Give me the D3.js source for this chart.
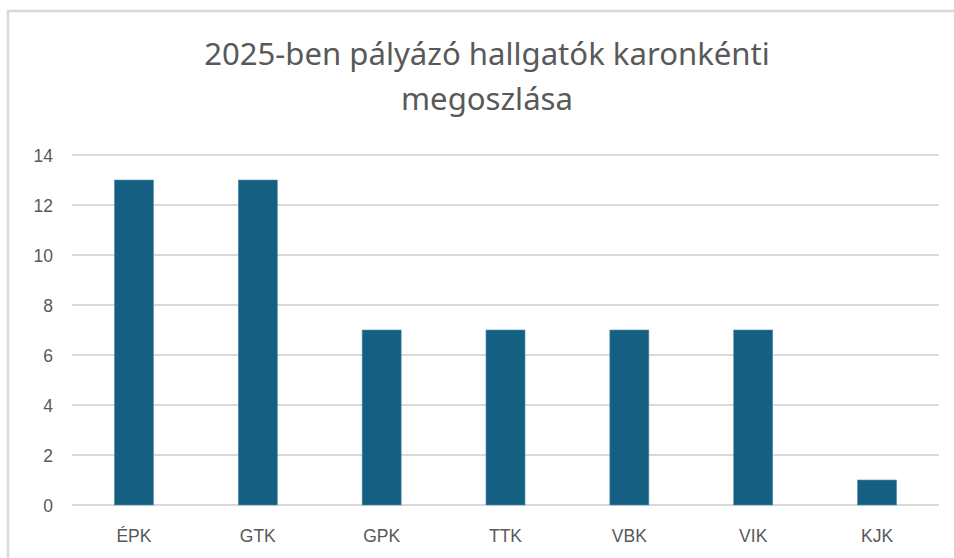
<!DOCTYPE html>
<html><head><meta charset="utf-8">
<script src="https://cdn.jsdelivr.net/npm/d3@7"></script>
<style>html,body{margin:0;padding:0;background:#fff;}</style>
</head><body>
<svg id="chart" width="954" height="558"></svg>
<script>
const categories = ["ÉPK", "GTK", "GPK", "TTK", "VBK", "VIK", "KJK"];
const values = [13, 13, 7, 7, 7, 7, 1];
const yTicks = [0, 2, 4, 6, 8, 10, 12, 14];
const titleLines = ["2025-ben pályázó hallgatók karonkénti", "megoszlása"];

(function () {
const svg = d3.select("#chart");
const W = 954, H = 558;
svg.append("rect").attr("x", 0).attr("y", 0).attr("width", W).attr("height", H).attr("fill", "#fff");
// chart border
svg.append("rect").attr("x", 8).attr("y", 11).attr("width", W + 10).attr("height", H + 10)
  .attr("fill", "none").attr("stroke", "#d9d9d9").attr("stroke-width", 2.5);

const pLeft = 72, pRight = 939, pTop = 155, pBottom = 505;
const x = d3.scaleBand().domain(categories).range([pLeft, pRight]).paddingInner(0.685).paddingOuter(0.3425);
const y = d3.scaleLinear().domain([0, 14]).range([pBottom, pTop]);

// gridlines
svg.append("g").selectAll("line").data(yTicks).join("line")
  .attr("x1", pLeft).attr("x2", pRight)
  .attr("y1", d => y(d)).attr("y2", d => y(d))
  .attr("stroke", "#d9d9d9").attr("stroke-width", 1.8);

// y axis labels
const yAxis = d3.axisLeft(y).tickValues(yTicks).tickSize(0).tickPadding(0);
const gy = svg.append("g").attr("transform", `translate(53,0)`).call(yAxis);
gy.select(".domain").remove();
gy.selectAll("text").attr("font-family", "Liberation Sans, Arial, sans-serif")
  .attr("font-size", 17.5).attr("fill", "#595959").attr("dy", "0.35em");

// bars
svg.append("g").selectAll("rect").data(values).join("rect")
  .attr("x", (d, i) => x(categories[i]))
  .attr("width", x.bandwidth())
  .attr("y", d => y(d))
  .attr("height", d => y(0) - y(d))
  .attr("fill", "#156082")
  .attr("stroke", "#4d8fae").attr("stroke-width", 0.6);

// x axis labels
const xAxis = d3.axisBottom(x).tickSize(0).tickPadding(0);
const gx = svg.append("g").attr("transform", `translate(0,${pBottom})`).call(xAxis);
gx.select(".domain").remove();
gx.selectAll("text").attr("font-family", "Liberation Sans, Arial, sans-serif")
  .attr("font-size", 17.5).attr("fill", "#595959").attr("y", 37).attr("dy", 0);

// title
const t = svg.append("g");
const t1 = t.append("text").attr("x", 487).attr("y", 65).attr("text-anchor", "middle")
  .attr("font-family", "Noto Sans, Open Sans, sans-serif").attr("font-size", 34)
  .attr("fill", "#595959").text(titleLines[0]);
const len = t1.node().getComputedTextLength();
const fs = 34 * 566 / len;
t1.attr("font-size", fs);
t.append("text").attr("x", 487).attr("y", 110).attr("text-anchor", "middle")
  .attr("font-family", "Noto Sans, Open Sans, sans-serif").attr("font-size", fs)
  .attr("fill", "#595959").text(titleLines[1]);
})();
</script>
</body></html>
